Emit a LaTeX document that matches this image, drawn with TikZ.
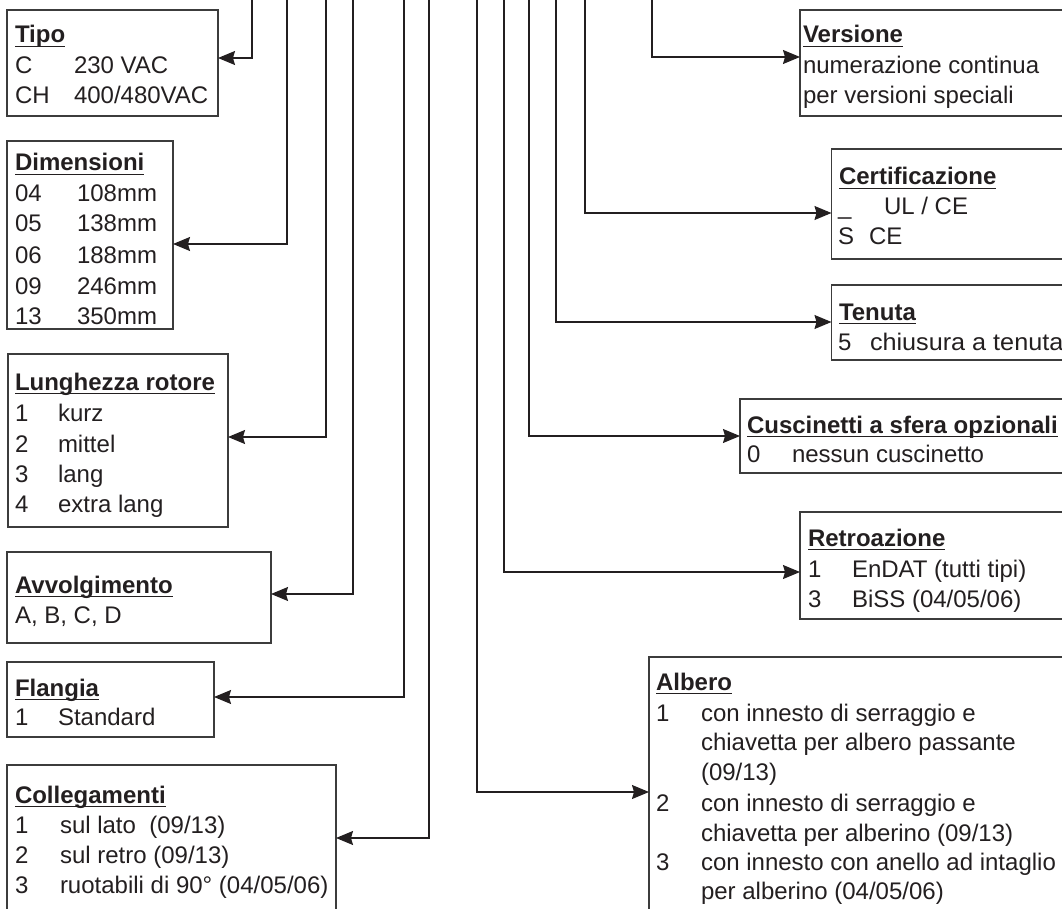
\documentclass[tikz,border=0pt]{standalone}
\usepackage{fontspec}
\setmainfont{Liberation Sans}
\usetikzlibrary{arrows.meta}
\definecolor{ink}{RGB}{35,31,32}
\definecolor{frame}{RGB}{60,60,60}
\newcommand{\hd}[1]{\setbox0\hbox{\bfseries #1}\rlap{\rule[-4.4pt]{\wd0}{1.7pt}}\box0}
\tikzset{
  box/.style={draw=frame, line width=1.5pt, anchor=north west, inner sep=0pt, outer sep=0pt},
  txt/.style={anchor=base west, inner sep=0pt, outer sep=0pt},
  conn/.style={draw=ink, line width=1.3pt},
  arr/.style={conn, -{Stealth[length=17pt,width=14pt,inset=2pt]}}
}
\begin{document}
\begin{tikzpicture}[x=1pt,y=-1pt,font=\fontsize{24}{30}\selectfont,text=ink]
\useasboundingbox (0,0) rectangle (1062,909);
\clip (0,0) rectangle (1062,909);

% boxes
\node[box,minimum width=211,minimum height=106] (tipo) at (7,10) {};
\node[box,minimum width=166,minimum height=188] (dim) at (7,141) {};
\node[box,minimum width=220,minimum height=173] (lun) at (8,354) {};
\node[box,minimum width=264,minimum height=91] (avv) at (7,552) {};
\node[box,minimum width=207,minimum height=75] (fla) at (7,662) {};
\node[box,minimum width=329,minimum height=180] (col) at (7,765) {};
\node[box,minimum width=300,minimum height=106] (ver) at (800,10) {};
\node[box,minimum width=300,minimum height=110] (cer) at (831.5,149) {};
\node[box,minimum width=300,minimum height=75] (ten) at (831.5,285) {};
\node[box,minimum width=400,minimum height=74] (cus) at (740,399) {};
\node[box,minimum width=300,minimum height=107] (ret) at (800,512) {};
\node[box,minimum width=500,minimum height=300] (alb) at (649,657) {};

% Tipo
\node[txt] (tipoH) at (15,43) {\hd{Tipo}};
\node[txt] (tipo1a) at (15,74) {C};
\node[txt] (tipo1b) at (74,74) {230 VAC};
\node[txt] (tipo2a) at (15,104) {CH};
\node[txt] (tipo2b) at (74,104) {400/480VAC};

% Dimensioni
\node[txt] (dimH) at (15,171) {\hd{Dimensioni}};
\node[txt] (dim1a) at (15,202) {04};
\node[txt] (dim1b) at (77,202) {108mm};
\node[txt] (dim2a) at (15,232) {05};
\node[txt] (dim2b) at (77,232) {138mm};
\node[txt] (dim3a) at (15,263) {06};
\node[txt] (dim3b) at (77,263) {188mm};
\node[txt] (dim4a) at (15,294) {09};
\node[txt] (dim4b) at (77,294) {246mm};
\node[txt] (dim5a) at (15,324) {13};
\node[txt] (dim5b) at (77,324) {350mm};

% Lunghezza rotore
\node[txt] (lunH) at (15,390) {\hd{Lunghezza rotore}};
\node[txt] (lun1a) at (15,421) {1};
\node[txt] (lun1b) at (58,421) {kurz};
\node[txt] (lun2a) at (15,452) {2};
\node[txt] (lun2b) at (58,452) {mittel};
\node[txt] (lun3a) at (15,482) {3};
\node[txt] (lun3b) at (58,482) {lang};
\node[txt] (lun4a) at (15,512) {4};
\node[txt] (lun4b) at (58,512) {extra lang};

% Avvolgimento
\node[txt] (avvH) at (15,593) {\hd{Avvolgimento}};
\node[txt] (avv1) at (15,623) {A, B, C, D};

% Flangia
\node[txt] (flaH) at (15,696) {\hd{Flangia}};
\node[txt] (fla1a) at (15,725) {1};
\node[txt] (fla1b) at (58,725) {Standard};

% Collegamenti
\node[txt] (colH) at (15,803) {\hd{Collegamenti}};
\node[txt] (col1a) at (15,833) {1};
\node[txt] (col1b) at (60,833) {sul lato\ \ (09/13)};
\node[txt] (col2a) at (15,863) {2};
\node[txt] (col2b) at (60,863) {sul retro (09/13)};
\node[txt] (col3a) at (15,893) {3};
\node[txt] (col3b) at (60,893) {ruotabili di 90° (04/05/06)};

% Versione
\node[txt] (verH) at (803,43) {\hd{Versione}};
\node[txt] (ver1) at (803,74) {numerazione continua};
\node[txt] (ver2) at (803,104) {per versioni speciali};

% Certificazione
\node[txt] (cerH) at (839,185) {\hd{Certificazione}};
\node[txt] (cer1a) at (838,215) {\_};
\node[txt] (cer1b) at (884,215) {UL / CE};
\node[txt] (cer2a) at (838,245) {S};
\node[txt] (cer2b) at (869,245) {CE};

% Tenuta
\node[txt] (tenH) at (839,320) {\hd{Tenuta}};
\node[txt] (ten1a) at (838,350) {5};
\node[txt] (ten1b) at (870,350) {\scalebox{1.05}[1]{chiusura a tenuta}};

% Cuscinetti
\node[txt] (cusH) at (747,433) {\hd{Cuscinetti a sfera opzionali}};
\node[txt] (cus1a) at (747,462) {0};
\node[txt] (cus1b) at (792,462) {nessun cuscinetto};

% Retroazione
\node[txt] (retH) at (808,546) {\hd{Retroazione}};
\node[txt] (ret1a) at (808,577) {1};
\node[txt] (ret1b) at (852,577) {EnDAT (tutti tipi)};
\node[txt] (ret2a) at (808,607) {3};
\node[txt] (ret2b) at (852,607) {BiSS (04/05/06)};

% Albero
\node[txt] (albH) at (656,690) {\hd{Albero}};
\node[txt] (alb1a) at (656,721) {1};
\node[txt] (alb1b) at (701,721) {con innesto di serraggio e};
\node[txt] (alb1c) at (701,750) {chiavetta per albero passante};
\node[txt] (alb1d) at (701,780) {(09/13)};
\node[txt] (alb2a) at (656,811) {2};
\node[txt] (alb2b) at (701,811) {con innesto di serraggio e};
\node[txt] (alb2c) at (701,841) {chiavetta per alberino (09/13)};
\node[txt] (alb3a) at (656,870) {3};
\node[txt] (alb3b) at (701,870) {con innesto con anello ad intaglio};
\node[txt] (alb3c) at (701,899) {per alberino (04/05/06)};

% connector origins (top edge)
\coordinate (sTipo) at (252,0);
\coordinate (sDim) at (287,0);
\coordinate (sLun) at (326,0);
\coordinate (sAvv) at (353,0);
\coordinate (sFla) at (404,0);
\coordinate (sCol) at (429,0);
\coordinate (sAlb) at (477,0);
\coordinate (sRet) at (504,0);
\coordinate (sCus) at (529,0);
\coordinate (sTen) at (556,0);
\coordinate (sCer) at (585,0);
\coordinate (sVer) at (652,0);

\draw[arr] (sTipo) |- ([yshift=-48pt]tipo.north east);
\draw[arr] (sDim) |- ([yshift=-103pt]dim.north east);
\draw[arr] (sLun) |- ([yshift=-83pt]lun.north east);
\draw[arr] (sAvv) |- ([yshift=-42pt]avv.north east);
\draw[arr] (sFla) |- ([yshift=-35pt]fla.north east);
\draw[arr] (sCol) |- ([yshift=-73pt]col.north east);
\draw[arr] (sAlb) |- ([yshift=-135pt]alb.north west);
\draw[arr] (sRet) |- ([yshift=-60pt]ret.north west);
\draw[arr] (sCus) |- ([yshift=-37pt]cus.north west);
\draw[arr] (sTen) |- ([yshift=-37pt]ten.north west);
\draw[arr] (sCer) |- ([yshift=-64pt]cer.north west);
\draw[arr] (sVer) |- ([yshift=-47pt]ver.north west);
\end{tikzpicture}
\end{document}
